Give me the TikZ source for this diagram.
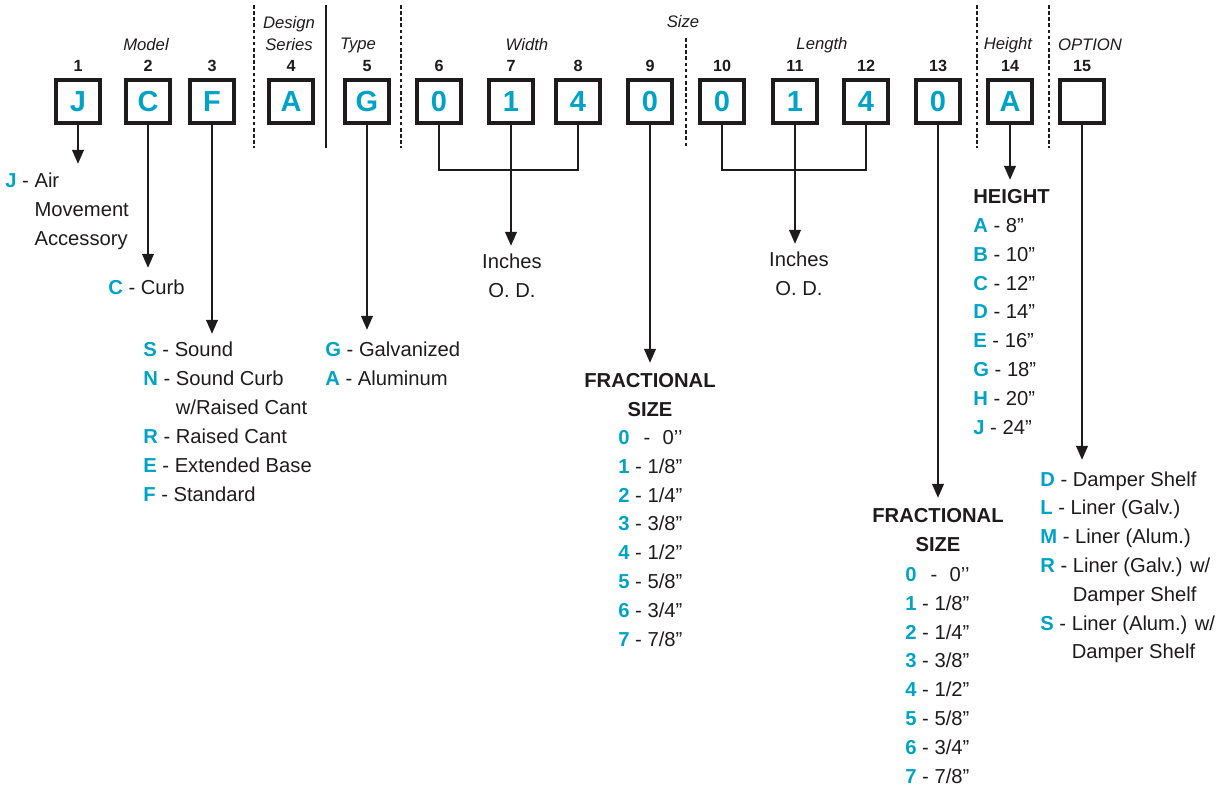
\documentclass[tikz,border=0pt]{standalone}
\usepackage{fontspec}
\setmainfont{Liberation Sans}
\usepackage{xcolor}
\usetikzlibrary{arrows.meta, positioning}
\definecolor{keycyan}{RGB}{0,163,198}
\definecolor{ink}{RGB}{30,27,28}
\newcommand{\ky}[1]{\textcolor{keycyan}{\textbf{#1}}}
\tikzset{
  %% Code character box
  codebox/.style={
    rectangle, draw=ink, line width=2.2pt,
    minimum size=24.6pt, inner sep=0pt,
    font=\fontsize{16.5}{16.5}\selectfont\bfseries, text=keycyan
  },
  %% Position number
  idx/.style={font=\fontsize{9.2}{9.2}\selectfont\bfseries, text=ink, inner sep=0pt},
  %% Group caption
  grp/.style={font=\fontsize{9.5}{12}\selectfont\itshape, text=ink,
              inner sep=0pt, align=center},
  %% Option lists
  lst/.style={font=\fontsize{11.5}{16.4}\selectfont, text=ink,
              inner sep=0pt, align=left, anchor=north west},
  txt/.style={font=\fontsize{11.5}{16.4}\selectfont, text=ink,
              inner sep=0pt, align=center, anchor=north},
  hdr/.style={font=\fontsize{11.5}{16.6}\selectfont\bfseries, text=ink,
              inner sep=0pt, align=center, anchor=north},
  %% Arrow
  arr/.style={-{Triangle[length=8pt,width=6.4pt]}, draw=ink, line width=1.6pt},
  lnk/.style={draw=ink, line width=1.6pt},
  divider/.style={draw=ink, line width=0.6pt, dash pattern=on 2pt off 1.5pt},
  soliddiv/.style={draw=ink, line width=0.7pt},
}

\begin{document}
\begin{tikzpicture}[x=0.02cm, y=-0.02cm]
  \useasboundingbox (0,0) rectangle (1225,785);

  %% Boxes and position numbers
  \foreach \c/\x [count=\i] in {J/78, C/148, F/212, A/291, G/367, 0/439, 1/511,
                                4/578, 0/650, 0/722, 1/795, 4/866, 0/938, A/1010, /1082}
  {
    \node[codebox] (b\i) at (\x,101.5) {\c};
    \node[idx, above=3.2pt of b\i] (n\i) {\i};
  }

  %% Group captions
  \node[grp] (gmodel)  at (146,45)   {Model};
  \node[grp] (gdesign) at (289,33.5) {Design\\Series};
  \node[grp] (gtype)   at (358,45)   {Type};
  \node[grp] (gwidth)  at (527,45)   {Width};
  \node[grp] (gsize)   at (683,22)   {Size};
  \node[grp] (glength) at (822,45)   {Length};
  \node[grp] (gheight) at (1008,45)  {Height};
  \node[grp] (goption) at (1090,45)  {OPTION};

  %% Dividers
  \foreach \x/\y in {254/5, 401/5, 686/38, 977/5, 1049/5}
    \draw[divider] (\x,\y) -- (\x,148);
  \draw[soliddiv] (326,5) -- (326,148);

  %% Arrow ends
  \coordinate (t1)  at (78,164);
  \coordinate (t2)  at (148,268);
  \coordinate (t3)  at (212,334);
  \coordinate (t5)  at (367,330);
  \coordinate (t7)  at (511,246);
  \coordinate (t9)  at (650,363);
  \coordinate (t11) at (795,244);
  \coordinate (t13) at (938,498);
  \coordinate (t14) at (1010,180);
  \coordinate (t15) at (1082,460);
  \coordinate (j7)  at (511,170);
  \coordinate (j11) at (795,170);

  %% Arrows
  \draw[lnk] (b6) |- (j7) -| (b8);
  \draw[lnk] (b10) |- (j11) -| (b12);
  \foreach \i in {1,2,3,5,7,9,11,13,14,15}
    \draw[arr] (b\i) -- (t\i);

  %% Lists
  \node[lst] (lj) at (5,173)
       {\ky{J} - Air\\\phantom{\ky{J} - }Movement\\\phantom{\ky{J} - }Accessory};
  \node[lst] (lc) at (108,280) {\ky{C} - Curb};
  \node[lst] (lf) at (143,342)
       {\ky{S} - Sound\\\ky{N} - Sound Curb\\\phantom{\ky{N} - }w/Raised Cant\\
        \ky{R} - Raised Cant\\\ky{E} - Extended Base\\\ky{F} - Standard};
  \node[lst] (lg) at (325,342) {\ky{G} - Galvanized\\\ky{A} - Aluminum};

  \node[txt] (inw) at (512,254) {Inches\\O. D.};
  \node[txt] (inl) at (799,252) {Inches\\O. D.};

  \node[hdr] (fr9) at (650,373) {FRACTIONAL\\SIZE};
  \node[lst] (ls9) at (618,430)
       {\ky{0}\hspace{8pt}-\hspace{7pt}0’’\\\ky{1} - 1/8”\\\ky{2} - 1/4”\\\ky{3} - 3/8”\\
        \ky{4} - 1/2”\\\ky{5} - 5/8”\\\ky{6} - 3/4”\\\ky{7} - 7/8”};

  \node[hdr] (fr13) at (938,508) {FRACTIONAL\\SIZE};
  \node[lst] (ls13) at (905,567)
       {\ky{0}\hspace{8pt}-\hspace{7pt}0’’\\\ky{1} - 1/8”\\\ky{2} - 1/4”\\\ky{3} - 3/8”\\
        \ky{4} - 1/2”\\\ky{5} - 5/8”\\\ky{6} - 3/4”\\\ky{7} - 7/8”};

  \node[hdr, anchor=north west] (hh) at (973,189) {HEIGHT};
  \node[lst] (lh) at (973,218)
       {\ky{A} - 8”\\\ky{B} - 10”\\\ky{C} - 12”\\\ky{D} - 14”\\
        \ky{E} - 16”\\\ky{G} - 18”\\\ky{H} - 20”\\\ky{J} - 24”};

  \node[lst] (lo) at (1040,471)
       {\ky{D} - Damper Shelf\\\ky{L} - Liner (Galv.)\\\ky{M} - Liner (Alum.)\\
        \ky{R} - Liner (Galv.) w/\\\phantom{\ky{R} - }Damper Shelf\\
        \ky{S} - Liner (Alum.) w/\\\phantom{\ky{S} - }Damper Shelf};

\end{tikzpicture}
\end{document}
